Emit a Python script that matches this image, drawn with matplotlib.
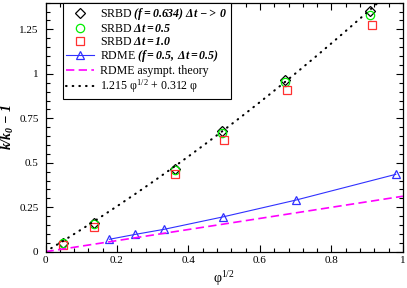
import numpy as np
import matplotlib
matplotlib.use("Agg")
import matplotlib.pyplot as plt
from matplotlib.ticker import MultipleLocator, FixedFormatter, FixedLocator

plt.rcParams['font.family'] = ['Liberation Serif', 'DejaVu Serif']
plt.rcParams['mathtext.fontset'] = 'custom'
plt.rcParams['mathtext.rm'] = 'Liberation Serif'
plt.rcParams['mathtext.it'] = 'Liberation Serif:italic'
plt.rcParams['mathtext.bf'] = 'Liberation Serif:italic:bold'

# SRBD data (x = phi^1/2)
srbd_x = [0.048, 0.137, 0.362, 0.493, 0.670, 0.908]
srbd0_y = [0.050, 0.159, 0.467, 0.677, 0.966, 1.355]
srbd05_y = [0.048, 0.153, 0.460, 0.670, 0.953, 1.332]
srbd10_x = [0.048, 0.137, 0.363, 0.499, 0.676, 0.914]
srbd10_y = [0.036, 0.137, 0.435, 0.630, 0.910, 1.276]

# RDME data
rdme_x = [0.179, 0.250, 0.332, 0.497, 0.700, 0.980]
rdme_y = [0.070, 0.097, 0.126, 0.196, 0.290, 0.435]

# theory coefficients
asym_slope = 0.312
fit_a, fit_b = 1.215, 0.312

fig = plt.figure(figsize=(4.07, 2.88), dpi=100)
ax = fig.add_axes([0.1118, 0.126, 0.8782, 0.8646])

xs = np.linspace(0, 1, 200)
h1, = ax.plot(srbd_x, srbd0_y, ls='none', marker='D', ms=4.6, mfc='none', mec='black', mew=0.9)
h2, = ax.plot(srbd_x, srbd05_y, ls='none', marker='o', ms=6, mfc='none', mec='#00ee00', mew=0.9)
h3, = ax.plot(srbd10_x, srbd10_y, ls='none', marker='s', ms=5.3, mfc='none', mec='#ff3030', mew=0.9)
h4, = ax.plot(rdme_x, rdme_y, ls='-', color='#3030ff', lw=0.8, marker='^', ms=5.6, mfc='none', mec='#3030ff', mew=0.9)
h5, = ax.plot(xs, asym_slope * xs, ls=(0, (5, 2.6)), color='#ff00ff', lw=1.2)
h6, = ax.plot(xs, fit_a * xs + fit_b * xs**2, ls=(0, (0.3, 2.9)), color='black', lw=1.5, dash_capstyle='round')

ax.set_xlim(0, 1)
ax.set_ylim(0, 1.4)
ax.xaxis.set_major_locator(FixedLocator([0, 0.2, 0.4, 0.6, 0.8, 1.0]))
ax.xaxis.set_major_formatter(FixedFormatter(['0', '0.2', '0.4', '0.6', '0.8', '1']))
ax.xaxis.set_minor_locator(MultipleLocator(0.04))
ax.yaxis.set_major_locator(FixedLocator([0, 0.25, 0.5, 0.75, 1.0, 1.25]))
ax.yaxis.set_major_formatter(FixedFormatter(['0', '0.25', '0.5', '0.75', '1', '1.25']))
ax.yaxis.set_minor_locator(MultipleLocator(0.05))
ax.tick_params(which='both', direction='in', top=True, right=True, labelsize=8, width=0.8)
ax.tick_params(which='major', length=5)
ax.tick_params(axis='y', which='major', pad=5)
ax.tick_params(axis='x', which='major', pad=3)
ax.tick_params(which='minor', length=3)
for s in ax.spines.values():
    s.set_linewidth(0.9)

ax.set_xlabel(r'φ$^{1/2}$', fontsize=10, labelpad=3)
ax.set_ylabel(r'$\mathbf{k/k_0\ {-}\ 1}$', fontsize=10)
ax.yaxis.set_label_coords(-0.083, 0.5)

labels = [
    r'SRBD $\mathbf{(f{=}0.634)\ \Delta t\ {-}{>}\ 0}$',
    r'SRBD $\mathbf{\Delta t{=}0.5}$',
    r'SRBD $\mathbf{\Delta t{=}1.0}$',
    r'RDME $\mathbf{(f{=}0.5,\ \Delta t{=}0.5)}$',
    'RDME asympt. theory',
    r'1.215 φ$^{1/2}$ + 0.312 φ',
]
leg = ax.legend([h1, h2, h3, h4, h5, h6], labels, loc='upper left',
                bbox_to_anchor=(0.048, 1.0), borderaxespad=0, fontsize=8.6,
                frameon=True, fancybox=False, edgecolor='black', framealpha=1,
                handlelength=2.3, handletextpad=0.55, labelspacing=0.06,
                borderpad=0.3)
leg.get_frame().set_linewidth(0.8)

fig.savefig('out.png', dpi=100)
